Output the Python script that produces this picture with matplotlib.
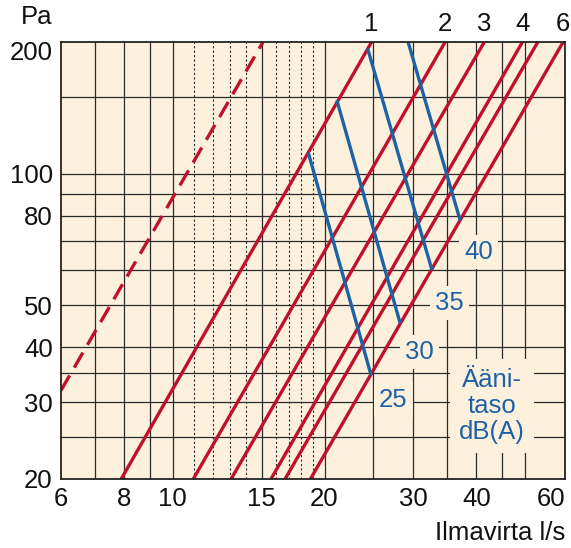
import matplotlib
matplotlib.use("Agg")
import matplotlib.pyplot as plt
import matplotlib.transforms as mtransforms

plt.rcParams['font.family'] = ['Liberation Sans', 'DejaVu Sans']

# ---- data ----
# red pressure lines: flow (l/s) at the bottom and top ends, and pressures (Pa)
red_q_low = [7.9, 10.98, 13.05, 15.66, 16.7, 18.75]
red_q_high = [24.8, 34.7, 41.5, 49.4, 53.0, 59.5]
red_p_low = 20
red_p_high = 200
red_labels = ["1", "2", "3", "4", "", "6"]

# dashed line
dash_q = [6.0, 15.1]
dash_p = [31.9, 200]

# blue sound level lines dB(A): start (on line 1) and end (on line 6)
blue_levels = [25, 30, 35, 40]
blue_q_start = [18.6, 21.2, 24.4, 29.3]
blue_p_start = [110.9, 146.0, 191.7, 200.0]
blue_q_end = [24.7, 28.2, 32.6, 37.1]
blue_p_end = [34.8, 45.8, 60.7, 78.7]

# grid
vgrid_solid = [7, 8, 9, 10, 15, 20, 25, 30, 35, 40, 45, 50]
vgrid_dotted = [11, 12, 13, 14, 16, 17, 18, 19]
hgrid = [25, 30, 35, 40, 50, 60, 70, 80, 90, 100, 150]
xticks = [6, 8, 10, 15, 20, 30, 40, 60]
yticks = [20, 30, 40, 50, 80, 100, 200]

CREAM = "#FDF1DE"
RED = "#C0102C"
BLUE = "#1E62A6"
GRID = "#2a2a2a"
FS = 18.5

fig = plt.figure(figsize=(5.71, 5.48), dpi=100)
ax = fig.add_axes([61 / 571, 1 - 479 / 548, 504 / 571, 437 / 548])
ax.set_facecolor(CREAM)
ax.set_xscale("log")
ax.set_yscale("log")
ax.set_xlim(6, 60)
ax.set_ylim(20, 200)

for v in vgrid_solid:
    ax.axvline(v, color=GRID, lw=0.9, zorder=1)
for v in vgrid_dotted:
    ax.axvline(v, color=GRID, lw=0.8, ls=(0, (2, 2)), zorder=1)
for h in hgrid:
    ax.axhline(h, color=GRID, lw=0.9, zorder=1)

ax.plot(dash_q, dash_p, color=RED, lw=2.4, ls=(0, (5.2, 2.7)), zorder=3,
        solid_capstyle="butt", dash_capstyle="butt")
for ql, qh in zip(red_q_low, red_q_high):
    ax.plot([ql, qh], [red_p_low, red_p_high], color=RED, lw=2.4, zorder=3)

top = mtransforms.blended_transform_factory(ax.transData, ax.transAxes)
for qh, lab in zip(red_q_high, red_labels):
    if lab:
        ax.text(qh, 1.041, lab, transform=top, ha="center", va="center",
                fontsize=FS, color="#111111", clip_on=False)

for i in range(len(blue_levels)):
    ax.plot([blue_q_start[i], blue_q_end[i]], [blue_p_start[i], blue_p_end[i]],
            color=BLUE, lw=2.4, zorder=4)

# sound level labels
lab_q = [27.4, 30.9, 35.4, 40.4]
lab_p = [30.4, 39.1, 50.5, 66.2]
for lev, q, p in zip(blue_levels, lab_q, lab_p):
    ax.text(q, p, str(lev), ha="center", va="center", fontsize=FS, color=BLUE,
            zorder=5, bbox=dict(boxstyle="square,pad=0.2", fc=CREAM, ec="none"))
ax.text(43.0, 29.4, "Ääni-\ntaso\ndB(A)", ha="center", va="center",
        fontsize=FS, color=BLUE, linespacing=1.12, zorder=5,
        bbox=dict(boxstyle="square,pad=0.35", fc=CREAM, ec="none"))

ax.set_xticks(xticks)
ax.set_xticklabels([str(t) for t in xticks])
ax.set_yticks(yticks)
ax.set_yticklabels([str(t) for t in yticks])
ax.minorticks_off()
ax.tick_params(length=0, labelsize=FS, pad=6, labelcolor="#111111")
ax.get_xticklabels()[-1].set_ha("right")
lbl = ax.get_yticklabels()[-1]
lbl.set_transform(lbl.get_transform() +
                  mtransforms.ScaledTranslation(0, -6 / 72, fig.dpi_scale_trans))

for s in ax.spines.values():
    s.set_linewidth(1.3)
    s.set_color("#222222")
    s.set_zorder(6)

fig.text(52 / 571, 1 - 17 / 548, "Pa", ha="right", va="center", fontsize=FS,
         color="#111111")
fig.text(565 / 571, 1 - 533 / 548, "Ilmavirta l/s", ha="right", va="center",
         fontsize=FS, color="#111111")

fig.savefig("out.png", dpi=100)
